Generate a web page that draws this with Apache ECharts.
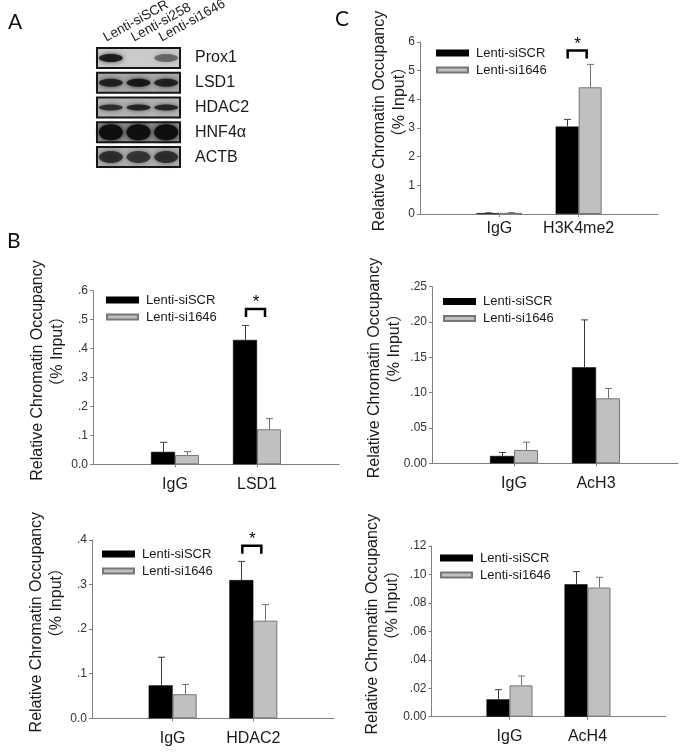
<!DOCTYPE html>
<html><head><meta charset="utf-8">
<script src="https://cdn.jsdelivr.net/npm/echarts@6/dist/echarts.min.js"></script>
<style>html,body{margin:0;padding:0;background:#fff}#c{width:683px;height:752px}</style>
</head><body><div id="c"></div>
<script>
// ---------- data ----------
const seriesNames = ['Lenti-siSCR', 'Lenti-si1646'];
const yTitleLine1 = 'Relative Chromatin Occupancy';
const yTitleLine2 = '（% Input）';

// Panel C : H3K4me2
const catsC = ['IgG', 'H3K4me2'];
const scrC = [0.03, 3.05];
const scrSdC = [0.01, 0.25];
const siC = [0.04, 4.42];
const siSdC = [0.01, 0.80];
const ticksC = ['0', '1', '2', '3', '4', '5', '6'];
const sigC = ['H3K4me2', 5.7];

// Panel B1 : LSD1
const catsB1 = ['IgG', 'LSD1'];
const scrB1 = [0.043, 0.43];
const scrSdB1 = [0.033, 0.05];
const siB1 = [0.032, 0.121];
const siSdB1 = [0.012, 0.037];
const ticksB1 = ['0.0', '.1', '.2', '.3', '.4', '.5', '.6'];
const sigB1 = ['LSD1', 0.537];

// Panel B2 : AcH3
const catsB2 = ['IgG', 'AcH3'];
const scrB2 = [0.0104, 0.136];
const scrSdB2 = [0.005, 0.067];
const siB2 = [0.0189, 0.092];
const siSdB2 = [0.011, 0.014];
const ticksB2 = ['0.00', '.05', '.10', '.15', '.20', '.25'];

// Panel B3 : HDAC2
const catsB3 = ['IgG', 'HDAC2'];
const scrB3 = [0.074, 0.31];
const scrSdB3 = [0.063, 0.042];
const siB3 = [0.054, 0.219];
const siSdB3 = [0.022, 0.036];
const ticksB3 = ['0.0', '.1', '.2', '.3', '.4'];
const sigB3 = ['HDAC2', 0.387];

// Panel B4 : AcH4
const catsB4 = ['IgG', 'AcH4'];
const scrB4 = [0.0122, 0.0931];
const scrSdB4 = [0.0068, 0.0089];
const siB4 = [0.022, 0.0908];
const siSdB4 = [0.0066, 0.0072];
const ticksB4 = ['0.00', '.02', '.04', '.06', '.08', '.10', '.12'];

// Panel A : western blot
const blotLanes = ['Lenti-siSCR', 'Lenti-si258', 'Lenti-si1646'];
const blotRows = ['Prox1', 'LSD1', 'HDAC2', 'HNF4α', 'ACTB'];
const blotBand = [
  [0.85, 0.0, 0.45],
  [0.80, 0.88, 0.80],
  [0.72, 0.80, 0.78],
  [1.00, 1.00, 1.00],
  [0.70, 0.65, 0.70]
];

// ---------- styles / layout ----------
const FONT = '"Liberation Sans", Arial, "Noto Sans CJK SC", sans-serif';
const rowBg = ['#cbcbcb', '#a8a8a8', '#b4b4b4', '#8c8c8c', '#b0b0b0'];
const rowBandH = [4, 4, 3, 8, 6];

// l1x / l2x : horizontal centres of the two y-title lines
const panels = [
  {cats: catsC, scr: scrC, scrSd: scrSdC, si: siC, siSd: siSdC, ticks: ticksC, max: 6, step: 1, sig: sigC,
   grid: {left: 420, top: 42, width: 238, height: 172}, barW: 23, l1x: 380, l2x: 400, xMargin: 7,
   legend: {left: 436, top: 46.5}},
  {cats: catsB1, scr: scrB1, scrSd: scrSdB1, si: siB1, siSd: siSdB1, ticks: ticksB1, max: 0.6, step: 0.1, sig: sigB1,
   grid: {left: 93, top: 290.7, width: 246, height: 173.6}, barW: 24, l1x: 38, l2x: 58, xMargin: 12,
   legend: {left: 106, top: 293.5}},
  {cats: catsB2, scr: scrB2, scrSd: scrSdB2, si: siB2, siSd: siSdB2, ticks: ticksB2, max: 0.25, step: 0.05, sig: null,
   grid: {left: 432, top: 286.7, width: 246, height: 176.6}, barW: 24, l1x: 375, l2x: 395, xMargin: 12,
   legend: {left: 443, top: 295}},
  {cats: catsB3, scr: scrB3, scrSd: scrSdB3, si: siB3, siSd: siSdB3, ticks: ticksB3, max: 0.4, step: 0.1, sig: sigB3,
   grid: {left: 92, top: 540, width: 242, height: 178.3}, barW: 24, l1x: 37, l2x: 57, xMargin: 12,
   legend: {left: 102, top: 547.5}},
  {cats: catsB4, scr: scrB4, scrSd: scrSdB4, si: siB4, siSd: siSdB4, ticks: ticksB4, max: 0.12, step: 0.02, sig: null,
   grid: {left: 431.5, top: 546, width: 234, height: 170.7}, barW: 23, l1x: 373, l2x: 393, xMargin: 12,
   legend: {left: 440, top: 551.5}}
];

const grids = [], xAxes = [], yAxes = [], series = [], legends = [], graphics = [];

function errRender(side, color) {
  return function (params, api) {
    const b = api.coord([api.value(0), api.value(1)]);
    const t = api.coord([api.value(0), api.value(2)]);
    const bw = api.value(3);
    const x = Math.round(b[0] + side * bw / 2) + 0.5;
    return {type: 'group', children: [
      {type: 'line', shape: {x1: x, y1: b[1], x2: x, y2: t[1]}, style: {stroke: color, lineWidth: 1}},
      {type: 'line', shape: {x1: x - 3.5, y1: t[1], x2: x + 3.5, y2: t[1]}, style: {stroke: color, lineWidth: 1}}
    ]};
  };
}
function sigRender(params, api) {
  const p = api.coord([api.value(0), api.value(1)]);
  const l = p[0] - 11, r = p[0] + 8, y = p[1];
  return {type: 'group', children: [
    {type: 'polyline', shape: {points: [[l, y + 8], [l, y], [r, y], [r, y + 8]]},
     style: {stroke: '#000', lineWidth: 2.5, fill: null}},
    {type: 'text', x: p[0] - 1, y: y + 2,
     style: {text: '*', fontSize: 17, fontFamily: FONT, fill: '#000', align: 'center', verticalAlign: 'bottom'}}
  ]};
}

panels.forEach((P, i) => {
  grids.push(Object.assign({}, P.grid));
  const xData = [''].concat(P.cats, ['']);
  xAxes.push({
    gridIndex: i, type: 'category', data: xData, boundaryGap: false,
    axisLine: {lineStyle: {color: '#7f7f7f', width: 1}},
    axisTick: {show: true, length: 3, interval: (idx) => idx > 0 && idx <= P.cats.length, lineStyle: {color: '#7f7f7f'}},
    axisLabel: {interval: 0, fontSize: 16, color: '#1a1a1a', margin: P.xMargin, fontFamily: FONT},
    splitLine: {show: false}
  });
  yAxes.push({
    gridIndex: i, type: 'value', min: 0, max: P.max, interval: P.step,
    axisLine: {show: true, lineStyle: {color: '#7f7f7f', width: 1}},
    axisTick: {show: true, length: 3, lineStyle: {color: '#7f7f7f'}},
    splitLine: {show: false},
    axisLabel: {formatter: (v) => P.ticks[Math.round(v / P.step)], fontSize: 12, color: '#333', margin: 5, fontFamily: FONT},
    name: yTitleLine1, nameLocation: 'middle', nameRotate: 90, nameGap: P.grid.left - P.l1x - 9,
    nameTextStyle: {fontSize: 16, lineHeight: 18, color: '#1a1a1a', fontFamily: FONT, padding: [0, 0, 0, 14]}
  });
  graphics.push({
    type: 'text', x: P.l2x, y: P.grid.top + P.grid.height / 2 - 26, rotation: Math.PI / 2,
    style: {text: yTitleLine2, fontSize: 16, fontFamily: FONT, fill: '#1a1a1a', align: 'center', verticalAlign: 'middle'}
  });
  const pad = (arr) => ['-'].concat(arr, ['-']);
  series.push({
    name: seriesNames[0], type: 'bar', xAxisIndex: i, yAxisIndex: i, data: pad(P.scr),
    barWidth: P.barW, barGap: '0%', itemStyle: {color: '#000', borderColor: '#000', borderWidth: 0.5}, z: 2
  });
  series.push({
    name: seriesNames[1], type: 'bar', xAxisIndex: i, yAxisIndex: i, data: pad(P.si),
    barWidth: P.barW, barGap: '0%', itemStyle: {color: '#c0c0c0', borderColor: '#767676', borderWidth: 1}, z: 2
  });
  series.push({
    name: 'errScr' + i, type: 'custom', xAxisIndex: i, yAxisIndex: i, z: 3,
    renderItem: errRender(-1, '#3a3a3a'),
    data: P.cats.map((c, k) => [k + 1, P.scr[k], P.scr[k] + P.scrSd[k], P.barW])
  });
  series.push({
    name: 'errSi' + i, type: 'custom', xAxisIndex: i, yAxisIndex: i, z: 3,
    renderItem: errRender(1, '#707070'),
    data: P.cats.map((c, k) => [k + 1, P.si[k], P.si[k] + P.siSd[k], P.barW])
  });
  if (P.sig) {
    series.push({
      name: 'sig' + i, type: 'custom', xAxisIndex: i, yAxisIndex: i, z: 4, renderItem: sigRender,
      data: [[P.cats.indexOf(P.sig[0]) + 1, P.sig[1]]]
    });
  }
  legends.push({
    data: seriesNames, orient: 'vertical', left: P.legend.left, top: P.legend.top, padding: 0,
    itemWidth: 31, itemHeight: 5, itemGap: 4, icon: 'rect', selectedMode: false,
    textStyle: {fontSize: 13, lineHeight: 13, color: '#1a1a1a', fontFamily: FONT, padding: [0, 0, 0, 3]}
  });
});

// western blot grid
const bi = panels.length;
grids.push({left: 97, top: 45.5, width: 83, height: 124});
xAxes.push({
  gridIndex: bi, type: 'category', data: blotLanes, position: 'top', boundaryGap: true,
  axisLine: {show: false}, axisTick: {show: false}, axisLabel: {show: false}
});
yAxes.push({
  gridIndex: bi, type: 'category', data: blotRows, position: 'right', inverse: true,
  axisLine: {show: false}, axisTick: {show: false}, splitLine: {show: false},
  axisLabel: {interval: 0, fontSize: 16, color: '#1a1a1a', margin: 15, fontFamily: FONT}
});
series.push({
  name: 'blotBox', type: 'custom', xAxisIndex: bi, yAxisIndex: bi, z: 1,
  data: blotRows.map((r, k) => [0, k]),
  renderItem: function (params, api) {
    const cs = params.coordSys;
    const k = api.value(1);
    const cy = api.coord([0, k])[1];
    return {type: 'rect', shape: {x: cs.x, y: cy - 10, width: cs.width, height: 20},
      style: {fill: rowBg[k], stroke: '#161616', lineWidth: 2}};
  }
});
const bandData = [];
blotBand.forEach((row, r) => row.forEach((v, l) => bandData.push([l, r, v])));
series.push({
  name: 'blotBand', type: 'custom', xAxisIndex: bi, yAxisIndex: bi, z: 2,
  data: bandData,
  renderItem: function (params, api) {
    const c = api.coord([api.value(0), api.value(1)]);
    const r = api.value(1), a = api.value(2);
    if (a <= 0) return null;
    const col = 'rgba(15,15,15,' + a + ')';
    return {type: 'ellipse', shape: {cx: c[0], cy: c[1], rx: 12, ry: rowBandH[r]},
      style: {fill: col, shadowBlur: 5, shadowColor: col}};
  }
});
series.push({
  name: 'blotLaneLabels', type: 'custom', xAxisIndex: bi, yAxisIndex: bi, z: 3,
  data: blotLanes.map((l, k) => [k, 0]),
  renderItem: function (params, api) {
    const k = api.value(0);
    const x = api.coord([k, 0])[0] - 3;
    const y = params.coordSys.y - 1;
    return {type: 'text', x: x, y: y, rotation: 29 * Math.PI / 180,
      style: {text: blotLanes[k], fontSize: 13.5, fontFamily: FONT, fill: '#1a1a1a', align: 'left', verticalAlign: 'bottom'}};
  }
});

graphics.push(
  {type: 'text', left: 8, top: 12, style: {text: 'A', fontSize: 21, fontFamily: 'Lato, "Open Sans", sans-serif', fill: '#111'}},
  {type: 'text', left: 7, top: 231, style: {text: 'B', fontSize: 21, fontFamily: 'Lato, "Open Sans", sans-serif', fill: '#111'}},
  {type: 'text', left: 335, top: 9, style: {text: 'C', fontSize: 21, fontFamily: 'Lato, "Open Sans", sans-serif', fill: '#111'}}
);

const chart = echarts.init(document.getElementById('c'), null, {renderer: 'canvas'});
chart.setOption({
  animation: false,
  backgroundColor: '#fff',
  grid: grids, xAxis: xAxes, yAxis: yAxes, series: series, legend: legends,
  graphic: graphics
});
</script></body></html>
